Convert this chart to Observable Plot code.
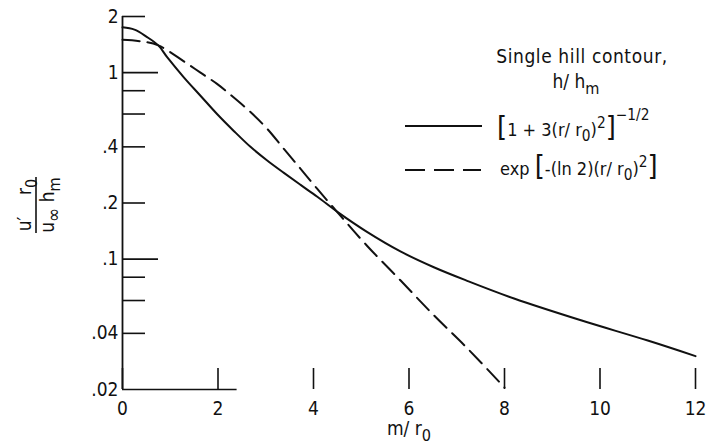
<!DOCTYPE html>
<html>
<head>
<meta charset="utf-8">
<script src="https://cdn.jsdelivr.net/npm/d3@7"></script>
<script src="https://cdn.jsdelivr.net/npm/@observablehq/plot@0.6"></script>
<style>
  html, body { margin: 0; padding: 0; background: #fff; }
  #chart svg { display: block; }
</style>
</head>
<body>
<div id="chart"></div>
<script>
// ---- data ----
const xTicks = [0, 2, 4, 6, 8, 10, 12];
const yLabelTicks = [2, 1, 0.4, 0.2, 0.1, 0.04, 0.02];
const yMajorTicks = [1, 0.1];
const yMinorTicks = [2, 0.8, 0.6, 0.4, 0.2, 0.08, 0.06, 0.04];

// solid curve: h/hm = [1 + 3(r/r0)^2]^-1/2
const solidR = [0, 0.25, 0.5, 0.75, 0.935, 1.284, 1.633, 1.98, 2.33, 2.68, 3.03, 3.38, 3.73, 4.08, 4.53, 5.12, 5.82, 6.52, 7.22, 8.2, 9.6, 11.0, 12.0];
const solidU = [1.75, 1.70, 1.56, 1.40, 1.21, 0.944, 0.752, 0.600, 0.487, 0.400, 0.338, 0.290, 0.250, 0.216, 0.177, 0.140, 0.110, 0.0905, 0.0765, 0.0615, 0.047, 0.0366, 0.0302];

// dashed curve: h/hm = exp[-(ln 2)(r/r0)^2]
const dashedR = [0, 0.4, 0.75, 1.284, 1.633, 1.98, 2.33, 2.68, 3.03, 3.38, 3.73, 4.08, 4.53, 5.12, 5.82, 6.52, 7.22, 8.0];
const dashedU = [1.50, 1.47, 1.40, 1.15, 1.00, 0.87, 0.736, 0.615, 0.50, 0.39, 0.305, 0.238, 0.175, 0.118, 0.077, 0.050, 0.0333, 0.0205];

const solid = solidR.map((r, i) => ({r, u: solidU[i]}));
const dashed = dashedR.map((r, i) => ({r, u: dashedU[i]}));

const FONT = "'Liberation Sans Narrow', 'DejaVu Sans Condensed', 'Liberation Sans', sans-serif";
const fmtY = d => d >= 1 ? String(d) : String(d).replace(/^0/, "");

const chart = Plot.plot({
  width: 710,
  height: 445,
  marginLeft: 122,
  marginRight: 15,
  marginTop: 16,
  marginBottom: 56,
  x: {domain: [0, 12]},
  y: {type: "log", domain: [0.02, 2]},
  style: {fontFamily: FONT, fontSize: "19px", color: "#111", background: "#fff"},
  marks: [
    // y tick labels
    Plot.axisY({ticks: yLabelTicks, tickSize: 0, tickPadding: 4, tickFormat: fmtY, label: null}),
    // inward y ticks
    Plot.axisY({ticks: yMajorTicks, tickSize: -36, tickFormat: () => "", strokeWidth: 1.6, label: null}),
    Plot.axisY({ticks: yMinorTicks, tickSize: -23, tickFormat: () => "", strokeWidth: 1.6, label: null}),
    // x ticks (upward) and labels
    Plot.axisX({ticks: xTicks, tickSize: -21, tickFormat: () => "", strokeWidth: 1.6, label: null}),
    Plot.axisX({ticks: xTicks, tickSize: 0, tickPadding: 12, label: null}),
    // axis lines
    Plot.ruleX([0], {y1: 0.02, y2: 2, strokeWidth: 1.8}),
    Plot.ruleY([0.02], {x1: 0, x2: 2.4, strokeWidth: 1.6}),
    // curves
    Plot.line(solid, {x: "r", y: "u", curve: "catmull-rom", stroke: "#111", strokeWidth: 2}),
    Plot.line(dashed, {x: "r", y: "u", curve: "catmull-rom", stroke: "#111", strokeWidth: 2, strokeDasharray: "17,8"})
  ]
});

document.getElementById("chart").appendChild(chart);

// ---- rich text helpers (subscripts / superscripts) ----
const svg = d3.select(chart);
function rich(g, x, y, parts, {size = 18, anchor = "start", transform = null, spacing = 0} = {}) {
  const t = g.append("text")
    .attr("x", x).attr("y", y)
    .attr("font-family", FONT)
    .attr("font-size", size)
    .attr("letter-spacing", spacing)
    .attr("fill", "#111")
    .attr("text-anchor", anchor);
  if (transform) t.attr("transform", transform);
  let cur = 0;
  for (const p of parts) {
    const [txt, shift = 0, scale = 1] = p;
    const target = shift * size;
    t.append("tspan")
      .attr("dy", target - cur)
      .attr("font-size", size * scale)
      .text(txt);
    cur = target;
  }
  return t;
}

const g = svg.append("g");

// y axis label (rotated fraction)
rich(g, 0, 0, [["u\u2032    r"], ["0", 0.3, 0.85]], {size: 19, anchor: "middle", transform: "translate(31,205) rotate(-90)"});
rich(g, 0, 0, [["u"], ["\u221E", 0.3, 1.0], [" h"], ["m", 0.3, 0.85]], {size: 19, anchor: "middle", transform: "translate(54,205) rotate(-90)"});
g.append("line").attr("x1", 36).attr("x2", 36).attr("y1", 177).attr("y2", 233)
  .attr("stroke", "#111").attr("stroke-width", 1.6);

// x axis label
rich(g, 409, 435, [["m/ r"], ["0", 0.3, 0.85]], {size: 19, anchor: "middle"});

// legend
rich(g, 582, 63, [["Single hill contour,"]], {size: 19, anchor: "middle", spacing: 0.6});
rich(g, 576, 88, [["h/ h"], ["m", 0.3, 0.85]], {size: 19, anchor: "middle"});
g.append("line").attr("x1", 405).attr("x2", 482).attr("y1", 126).attr("y2", 126)
  .attr("stroke", "#111").attr("stroke-width", 2);
rich(g, 497, 136, [["[", 0.05, 1.6], ["1 + 3(r/ r", 0], ["0", 0.3, 0.85], [")", 0], ["2", -0.45, 0.85], ["]", 0.05, 1.6], ["\u22121/2", -0.9, 0.85]], {size: 18});
g.append("line").attr("x1", 405).attr("x2", 481).attr("y1", 170).attr("y2", 170)
  .attr("stroke", "#111").attr("stroke-width", 2).attr("stroke-dasharray", "20,9");
rich(g, 500, 175, [["exp "], ["[", 0.05, 1.6], ["-(ln 2)(r/ r", 0], ["0", 0.3, 0.85], [")", 0], ["2", -0.45, 0.85], ["]", 0.05, 1.6]], {size: 18});
</script>
</body>
</html>
